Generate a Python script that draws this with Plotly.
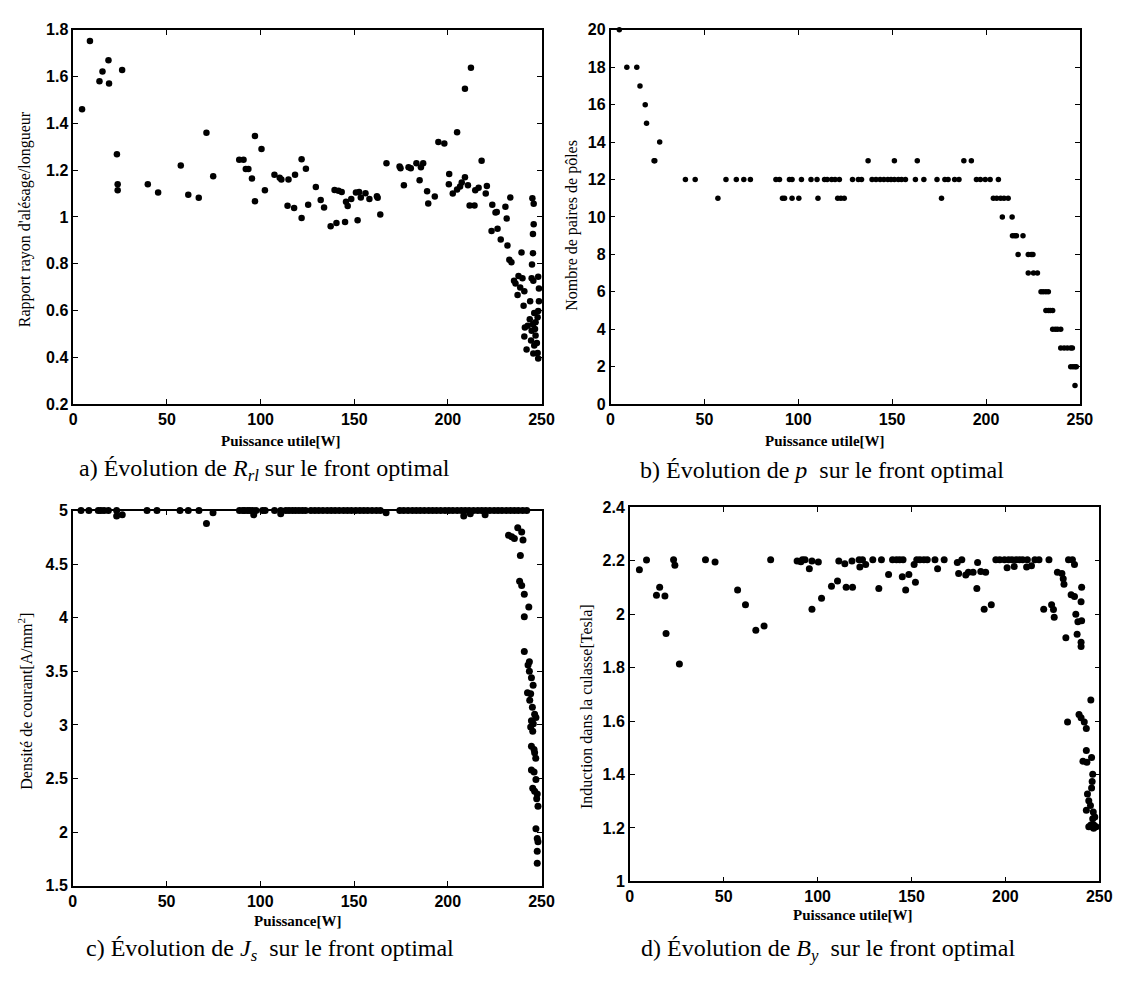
import plotly.graph_objects as go

# ---------------- data ----------------
# a) R_rl vs useful power
a_x = [4.7, 8.9, 14.0, 15.6, 18.8, 19.1, 23.3, 23.7, 23.7, 26.1,
       39.8, 45.3, 57.4, 61.4, 67.0, 71.1, 74.7, 88.6, 90.9, 92.1,
       93.5, 95.4, 97.0, 97.0, 100.5, 102.3, 107.4, 110.2, 111.1, 114.4,
       114.9, 117.9, 118.4, 121.9, 121.9, 124.2, 125.4, 129.5, 132.1, 133.9,
       137.4, 140.5, 139.5, 141.6, 143.3, 145.1, 145.6, 146.5, 148.4, 150.9,
       151.8, 152.6, 153.5, 156.0, 158.1, 162.1, 162.5, 163.9, 167.2, 174.2,
       174.7, 176.5, 179.0, 180.2, 183.2, 184.9, 185.6, 186.8, 188.9, 189.5,
       193.0, 194.9, 198.1, 200.7, 200.5, 202.6, 204.9, 204.9, 206.5, 207.4,
       209.1, 209.1, 210.7, 212.3, 211.6, 214.2, 214.6, 216.4, 218.0, 220.2,
       220.8, 223.7, 223.3, 225.4, 226.5, 226.1, 228.2, 230.7, 231.4, 231.8,
       233.3, 232.8, 233.9, 235.3, 236.1, 237.2, 237.7, 239.3, 239.8, 238.6,
       240.8, 240.4, 241.1, 240.8, 242.0, 242.6, 243.7, 243.9, 245.1, 245.8,
       245.8, 245.4, 245.4, 244.9, 244.7, 245.6, 246.1, 245.4, 246.5, 246.8,
       247.5, 247.9, 248.2, 248.2, 248.6, 248.6, 248.2, 247.9, 246.8, 244.7,
       244.4, 246.1, 245.6]
a_y = [1.46, 1.752, 1.58, 1.622, 1.67, 1.57, 1.268, 1.14, 1.114, 1.628,
       1.14, 1.104, 1.22, 1.095, 1.082, 1.36, 1.174, 1.244, 1.244, 1.205,
       1.205, 1.164, 1.346, 1.067, 1.29, 1.114, 1.18, 1.168, 1.16, 1.048,
       1.16, 1.038, 1.18, 0.996, 1.247, 1.206, 1.052, 1.128, 1.072, 1.04,
       0.96, 0.974, 1.115, 1.112, 1.107, 0.978, 1.065, 1.047, 1.077, 1.105,
       0.986, 1.107, 1.083, 1.101, 1.077, 1.089, 1.082, 1.01, 1.23, 1.216,
       1.208, 1.136, 1.212, 1.208, 1.23, 1.157, 1.212, 1.23, 1.11, 1.058,
       1.087, 1.32, 1.314, 1.184, 1.14, 1.1, 1.362, 1.117, 1.13, 1.147,
       1.548, 1.17, 1.136, 1.638, 1.049, 1.049, 1.114, 1.125, 1.24, 1.1,
       1.132, 1.052, 0.94, 1.019, 0.95, 1.021, 0.904, 1.044, 0.993, 0.878,
       1.083, 0.817, 0.806, 0.727, 0.716, 0.666, 0.748, 0.848, 0.738, 0.699,
       0.682, 0.621, 0.528, 0.489, 0.434, 0.535, 0.563, 0.64, 1.08, 1.056,
       0.969, 0.927, 0.845, 0.797, 0.738, 0.727, 0.59, 0.542, 0.521, 0.493,
       0.461, 0.419, 0.395, 0.745, 0.694, 0.64, 0.598, 0.571, 0.55, 0.514,
       0.472, 0.451, 0.416]

# b) number of pole pairs p
b_x = [4.7, 8.7, 14.0, 15.7, 18.5, 19.2, 23.2, 23.6, 26.2,
       39.9, 45.1, 61.5, 67.0, 71.0, 74.5, 88.1, 90.0, 95.3, 96.7,
       101.7, 106.8, 110.0, 114.0, 115.4, 117.8, 119.6, 121.9, 128.9, 132.0,
       133.7, 139.3, 141.4, 143.6, 145.6, 147.7, 149.4, 151.2, 153.3, 155.0,
       157.1, 162.4, 166.9, 173.9, 178.1, 179.8, 183.3, 185.6, 194.9, 197.0,
       199.6, 202.2, 206.6,
       57.2, 91.6, 92.7, 96.7, 100.3, 110.5, 121.0, 122.7, 124.5, 176.3,
       203.9, 205.7, 207.8, 209.6, 211.8,
       137.2, 151.2, 163.4, 188.2, 192.2,
       208.7, 213.9,
       214.1, 215.3, 216.2, 219.7,
       217.1, 222.5, 224.1, 225.0,
       222.5, 225.3, 227.4,
       229.3, 230.5, 231.9, 233.2,
       231.9, 233.2, 234.2, 235.5,
       235.5, 236.9, 238.1, 239.8,
       239.8, 241.6, 243.3, 245.1, 246.0,
       245.1, 246.3, 247.4, 248.1,
       247.4]
b_p = [20, 18, 18, 17, 16, 15, 13, 13, 14,
       12, 12, 12, 12, 12, 12, 12, 12, 12, 12,
       12, 12, 12, 12, 12, 12, 12, 12, 12, 12,
       12, 12, 12, 12, 12, 12, 12, 12, 12, 12,
       12, 12, 12, 12, 12, 12, 12, 12, 12, 12,
       12, 12, 12,
       11, 11, 11, 11, 11, 11, 11, 11, 11, 11,
       11, 11, 11, 11, 11,
       13, 13, 13, 13, 13,
       10, 10,
       9, 9, 9, 9,
       8, 8, 8, 8,
       7, 7, 7,
       6, 6, 6, 6,
       5, 5, 5, 5,
       4, 4, 4, 4,
       3, 3, 3, 3, 3,
       2, 2, 2, 2,
       1]

# c) current density J_s
c_x = [4.4, 8.6, 13.6, 15.0, 16.7, 19.0, 23.4, 39.6, 44.9, 57.2,
       61.6, 67.3, 88.9, 90.7, 91.7, 93.3, 94.5, 96.0, 97.7, 101.2,
       102.6, 107.6, 110.9, 113.6, 115.3, 117.1, 118.8, 120.6, 122.4, 124.1,
       127.0, 129.1, 131.2, 133.4, 135.7, 137.8, 139.9, 142.1, 144.4, 146.5,
       148.6, 150.9, 153.1, 155.2, 157.3, 159.6, 161.9, 164.0, 174.4, 176.5,
       178.8, 181.1, 183.2, 185.3, 187.5, 189.8, 191.9, 194.0, 196.2, 198.5,
       200.6, 202.7, 205.0, 207.2, 209.3, 211.4, 213.7, 216.0, 218.1, 220.2,
       222.4, 224.7, 226.8, 228.9, 231.2, 233.4, 235.5, 237.6, 239.9, 242.1,
       23.4, 26.4, 71.3, 74.8, 96.5, 110.9, 167.1, 208.5, 212.0, 219.9,
       232.4, 234.1, 235.5, 237.3, 239.4, 240.1, 238.7, 238.3, 239.4, 240.8,
       243.2, 240.8, 240.8, 243.5, 242.8, 243.5, 244.6, 245.5, 242.5, 244.2,
       243.7, 245.1, 246.3, 247.0, 244.6, 245.6, 244.2, 245.3, 244.6, 246.0,
       246.3, 246.9, 244.6, 246.0, 247.0, 245.3, 246.3, 247.7, 247.4, 248.1,
       247.0, 247.7, 248.1, 247.7, 247.7]
c_j = [5, 5, 5, 5, 5, 5, 5, 5, 5, 5,
       5, 5, 5, 5, 5, 5, 5, 5, 5, 5,
       5, 5, 5, 5, 5, 5, 5, 5, 5, 5,
       5, 5, 5, 5, 5, 5, 5, 5, 5, 5,
       5, 5, 5, 5, 5, 5, 5, 5, 5, 5,
       5, 5, 5, 5, 5, 5, 5, 5, 5, 5,
       5, 5, 5, 5, 5, 5, 5, 5, 5, 5,
       5, 5, 5, 5, 5, 5, 5, 5, 5, 5,
       4.95, 4.96, 4.88, 4.98, 4.96, 4.97, 4.98, 4.95, 4.97, 4.96,
       4.77, 4.755, 4.74, 4.84, 4.80, 4.725, 4.58, 4.34, 4.30, 4.22,
       4.10, 4.01, 3.685, 3.59, 3.56, 3.50, 3.44, 3.37, 3.30, 3.29,
       3.23, 3.165, 3.10, 3.07, 3.04, 3.01, 2.98, 2.94, 2.80, 2.77,
       2.74, 2.69, 2.58, 2.56, 2.49, 2.41, 2.38, 2.355, 2.31, 2.24,
       2.03, 1.94, 1.91, 1.82, 1.71]

# d) yoke induction B_y
d_x = [5.1, 8.9, 14.2, 15.9, 18.7, 19.3, 23.3, 24.0, 26.4, 40.3,
       45.4, 57.4, 61.6, 67.1, 71.5, 75.0, 89.1, 91.1, 91.9, 93.3,
       95.6, 97.0, 97.0, 100.4, 102.1, 107.4, 110.6, 111.3, 114.5, 115.2,
       118.3, 118.6, 122.1, 122.5, 123.9, 125.6, 129.4, 132.6, 134.0, 137.8,
       139.9, 142.0, 143.7, 145.5, 145.1, 146.9, 148.6, 151.4, 152.1, 152.8,
       154.5, 156.6, 158.4, 162.5, 163.9, 167.4, 174.4, 175.1, 176.8, 178.9,
       180.3, 182.8, 184.8, 185.2, 186.9, 188.7, 189.5, 192.5, 194.9, 197.0,
       199.5, 200.9, 201.7, 203.5, 204.7, 205.7, 207.5, 209.2, 211.3, 211.7,
       213.9, 215.7, 217.9, 220.4, 223.2, 224.6, 225.6, 226.0, 227.7, 230.1,
       230.8, 231.2, 232.2, 233.1, 233.6, 235.7, 236.8, 235.0, 236.8, 237.5,
       238.2, 238.6, 239.2, 240.3, 240.6, 240.3, 240.6, 240.3, 240.3, 241.3,
       242.0, 243.1, 243.1, 243.4, 243.7, 243.1, 244.4, 245.3, 245.9, 245.5,
       246.5, 246.2, 245.9, 246.8, 246.5, 244.4, 245.9, 247.6, 247.1, 245.5,
       247.0, 247.6, 248.3]
d_b = [2.166, 2.203, 2.071, 2.101, 2.068, 1.928, 2.204, 2.183, 1.814, 2.204,
       2.195, 2.091, 2.035, 1.94, 1.956, 2.204, 2.199, 2.196, 2.204, 2.204,
       2.17, 2.199, 2.019, 2.195, 2.06, 2.105, 2.124, 2.199, 2.189, 2.101,
       2.199, 2.101, 2.204, 2.177, 2.204, 2.186, 2.204, 2.096, 2.204, 2.149,
       2.204, 2.204, 2.204, 2.204, 2.14, 2.091, 2.149, 2.186, 2.12, 2.204,
       2.204, 2.204, 2.204, 2.204, 2.17, 2.204, 2.194, 2.152, 2.204, 2.147,
       2.157, 2.157, 2.096, 2.194, 2.16, 2.019, 2.157, 2.035, 2.204, 2.204,
       2.204, 2.174, 2.204, 2.204, 2.179, 2.204, 2.204, 2.204, 2.177, 2.204,
       2.181, 2.204, 2.204, 2.019, 2.204, 2.035, 2.018, 1.989, 2.157, 2.152,
       2.133, 2.112, 1.912, 1.597, 2.204, 2.204, 2.186, 2.073, 2.066, 2.0,
       1.925, 1.972, 1.625, 1.613, 1.976, 2.047, 2.101, 1.895, 1.879, 1.45,
       1.597, 1.572, 1.49, 1.446, 1.327, 1.266, 1.302, 1.284, 1.464, 1.679,
       1.401, 1.374, 1.35, 1.26, 1.235, 1.205, 1.205, 1.205, 1.211, 1.211,
       1.199, 1.241, 1.205]

x_ticks = [0, 50, 100, 150, 200, 250]
ya_ticks = [0.2, 0.4, 0.6, 0.8, 1.0, 1.2, 1.4, 1.6, 1.8]
yb_ticks = [0, 2, 4, 6, 8, 10, 12, 14, 16, 18, 20]
yc_ticks = [1.5, 2, 2.5, 3, 3.5, 4, 4.5, 5]
yd_ticks = [1, 1.2, 1.4, 1.6, 1.8, 2, 2.2, 2.4]

# ---------------- figure ----------------
W, H = 1123, 981
SERIF = "Liberation Serif"
SANS = "Liberation Sans"


def px_x(p):
    return p / W


def px_y(p):
    return 1 - p / H


fig = go.Figure()

series = [(a_x, a_y, "x", "y", 6.5),
          (b_x, b_p, "x2", "y2", 5.5),
          (c_x, c_j, "x3", "y3", 7),
          (d_x, d_b, "x4", "y4", 7)]
for xs, ys, xa, ya, sz in series:
    fig.add_trace(go.Scatter(x=xs, y=ys, mode="markers", xaxis=xa, yaxis=ya,
                             marker=dict(color="black", size=sz, line=dict(width=0)),
                             showlegend=False, cliponaxis=False))


def axis(domain, rng, tickvals, anchor):
    return dict(domain=domain, range=rng, tickvals=tickvals, anchor=anchor,
                showline=True, linecolor="black", linewidth=1.5,
                mirror="allticks", ticks="inside", ticklen=5, tickcolor="black",
                tickwidth=1, showgrid=False, zeroline=False,
                tickfont=dict(family=SANS, size=16, color="black", weight="bold"))


# panel domains in pixels
dom = {
    "a": ((62.2, 537.7), (14, 395)),
    "b": ((607.7, 1084.3), (14, 395)),
    "c": ((61.7, 537.7), (503.3, 885)),
    "d": ((627.3, 1104), (500, 880.7)),
}


def xd(k):
    return [px_x(dom[k][0][0]), px_x(dom[k][0][1])]


def yd(k):
    return [px_y(dom[k][1][1]), px_y(dom[k][1][0])]


fig.update_layout(
    width=W, height=H,
    margin=dict(l=0, r=0, t=0, b=0),
    paper_bgcolor="white", plot_bgcolor="white",
    xaxis=axis(xd("a"), [0, 250], x_ticks, "y"),
    yaxis=axis(yd("a"), [0.2, 1.8], ya_ticks, "x"),
    xaxis2=axis(xd("b"), [0, 250], x_ticks, "y2"),
    yaxis2=axis(yd("b"), [0, 20], yb_ticks, "x2"),
    xaxis3=axis(xd("c"), [0, 250], x_ticks, "y3"),
    yaxis3=axis(yd("c"), [1.5, 5], yc_ticks, "x3"),
    xaxis4=axis(xd("d"), [0, 250], x_ticks, "y4"),
    yaxis4=axis(yd("d"), [1, 2.4], yd_ticks, "x4"),
)

ann = []


def text(t, x, y, size, family=SERIF, angle=0, weight="normal"):
    ann.append(dict(text=t, x=px_x(x), y=px_y(y), xref="paper", yref="paper",
                    showarrow=False, textangle=angle, xanchor="center", yanchor="middle",
                    font=dict(family=family, size=size, color="black", weight=weight)))


# x-axis titles
text("Puissance utile[W]", 273, 433, 15, weight="bold")
text("Puissance utile[W]", 826, 433, 15, weight="bold")
text("Puissance[W]", 290, 921, 15, weight="bold")
text("Puissance utile[W]", 854, 915, 15, weight="bold")

# y-axis titles
text("Rapport rayon d'alésage/longueur", 14, 207, 16, angle=-90)
text("Nombre de paires de pôles", 569, 213, 16, angle=-90)
text("Densité de courant[A/mm<sup>2</sup>]", 13, 697, 16, angle=-90)
text("Induction dans la culasse[Tesla]", 584, 703, 16, angle=-90)

# captions
text("a) Évolution de <i>R<sub>rl</sub></i> sur le front optimal", 256, 462, 24)
text("b) Évolution de <i>p</i>  sur le front optimal", 822, 462, 24)
text("c) Évolution de <i>J<sub>s</sub></i>  sur le front optimal", 262, 950, 24)
text("d) Évolution de <i>B<sub>y</sub></i>  sur le front optimal", 829, 950, 24)

fig.update_layout(annotations=ann)

fig.write_html("out.html")
